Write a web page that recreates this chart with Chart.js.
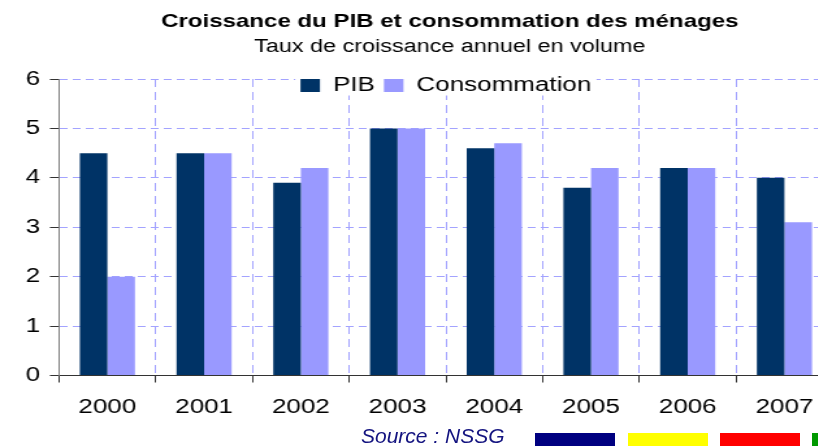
<!DOCTYPE html>
<html>
<head>
<meta charset="utf-8">
<script src="https://cdn.jsdelivr.net/npm/chart.js@4"></script>
<style>
html,body{margin:0;padding:0;overflow:hidden;background:#fff;width:818px;height:446px;}
#wrap{position:absolute;left:0;top:0;width:692px;height:446px;transform:scaleX(1.3);transform-origin:0 0;}
#c{display:block;width:692px;height:446px;}
#source{position:absolute;left:361px;top:425px;font:italic 21px/21px "Liberation Sans",Arial,sans-serif;color:#141480;white-space:nowrap;}
.strip{position:absolute;top:433px;height:13px;width:80px;}
</style>
</head>
<body>
<div id="wrap"><canvas id="c" width="692" height="446"></canvas></div>
<div id="source">Source : NSSG</div>
<div class="strip" style="left:535px;background:#000080"></div>
<div class="strip" style="left:628px;background:#ffff00"></div>
<div class="strip" style="left:720px;background:#ff0000"></div>
<div class="strip" style="left:812px;background:#009900"></div>
<script>
const years = ['2000', '2001', '2002', '2003', '2004', '2005', '2006', '2007'];
const pib = [4.5, 4.5, 3.9, 5.0, 4.6, 3.8, 4.2, 4.0];
const consommation = [2.0, 4.5, 4.2, 5.0, 4.7, 4.2, 4.2, 3.1];
const seriesLabels = ['PIB', 'Consommation'];
const yTicks = [0, 1, 2, 3, 4, 5, 6];
const titleText = 'Croissance du PIB et consommation des ménages';
const subtitleText = 'Taux de croissance annuel en volume';

const FONT = '"Liberation Sans", Arial, sans-serif';
Chart.defaults.font.family = FONT;
Chart.defaults.color = '#000';

const GRID = '#a3a3ff';
const LEGEND_PAD = 7;
const LEGEND_ITEM_H = 20;

const legendPlace = {
  id: 'legendPlace',
  afterLayout(chart) {
    const lg = chart.legend, a = chart.chartArea;
    const h = LEGEND_PAD * 2 + LEGEND_ITEM_H;
    lg.left = a.left; lg.right = a.right; lg.width = a.right - a.left;
    lg.top = 68.5; lg.height = h; lg.bottom = lg.top + h;
  },
  afterDatasetsDraw(chart) {
    const lg = chart.legend, hb = lg.legendHitBoxes;
    if (!hb || !hb.length) return;
    let l = Infinity, t = Infinity, r = -Infinity, b = -Infinity;
    hb.forEach(h => {
      l = Math.min(l, h.left); t = Math.min(t, h.top);
      r = Math.max(r, h.left + h.width); b = Math.max(b, h.top + h.height);
    });
    const ctx = chart.ctx;
    ctx.save();
    ctx.fillStyle = '#fff';
    ctx.fillRect(l - 4, t - 4, r - l + 8, b - t + 4);
    ctx.restore();
    lg.draw();
  }
};

new Chart(document.getElementById('c'), {
  type: 'bar',
  data: {
    labels: years,
    datasets: [
      { label: seriesLabels[0], data: pib, backgroundColor: '#003366', borderWidth: 0 },
      { label: seriesLabels[1], data: consommation, backgroundColor: '#9999ff', borderWidth: 0 }
    ]
  },
  options: {
    responsive: false,
    animation: false,
    devicePixelRatio: 1,
    datasets: { bar: { categoryPercentage: 0.57, barPercentage: 1.0 } },
    layout: { padding: { top: 0, left: 0, right: 0, bottom: 14.5 } },
    plugins: {
      tooltip: { enabled: false },
      title: {
        display: true, text: titleText, color: '#000',
        font: { size: 18.5, weight: 'bold', family: FONT },
        padding: { top: 10.4, bottom: 0 }
      },
      subtitle: {
        display: true, text: subtitleText, color: '#000',
        font: { size: 18, weight: 'normal', family: FONT },
        padding: { top: 3.4, bottom: 20.4 }
      },
      legend: {
        display: true, position: 'top', align: 'center', maxHeight: 1,
        labels: { boxWidth: 15, boxHeight: 13, padding: LEGEND_PAD, color: '#000', font: { size: LEGEND_ITEM_H, family: FONT } }
      }
    },
    scales: {
      x: {
        offset: true,
        grid: { offset: true, color: GRID, lineWidth: 1, tickLength: 7, tickColor: '#333', tickBorderDash: [], drawTicks: true },
        border: { display: true, color: '#333', width: 1, dash: [8, 5] },
        ticks: { font: { size: 20, family: FONT }, color: '#000', padding: 12.5, maxRotation: 0, autoSkip: false }
      },
      y: {
        min: 0, max: 6,
        afterBuildTicks(s) { s.ticks = yTicks.map(v => ({ value: v })); },
        afterFit(s) { s.width = 45.4; },
        grid: { color: GRID, lineWidth: 1, tickLength: 7, tickColor: '#333', tickBorderDash: [] },
        border: { display: true, color: '#808080', width: 1, dash: [6, 4] },
        ticks: { font: { size: 20, family: FONT }, color: '#000', padding: 7.6 }
      },
      yR: {
        type: 'linear', position: 'right', display: true,
        grid: { display: false }, border: { display: false },
        ticks: { display: false },
        afterFit(s) { s.width = 51.4; }
      }
    }
  },
  plugins: [legendPlace]
});
</script>
</body>
</html>
